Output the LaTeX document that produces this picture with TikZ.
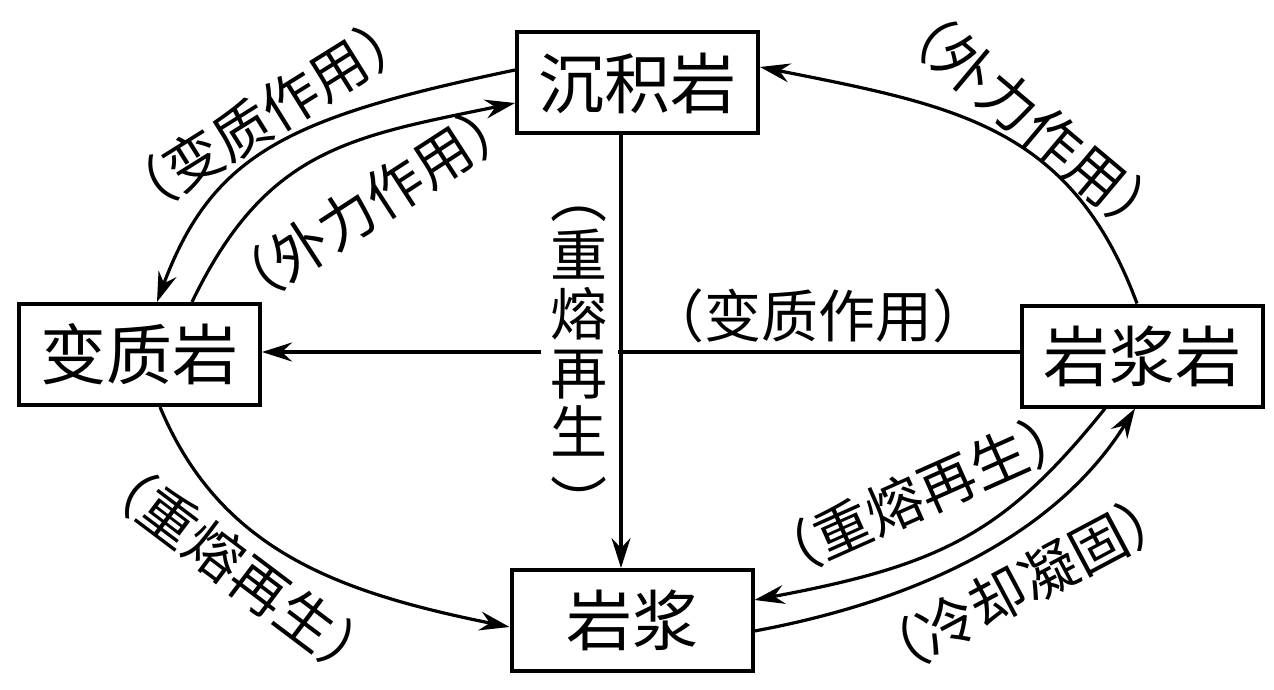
\documentclass[tikz,border=0pt]{standalone}
\usepackage{fontspec}
\newfontfamily\cjk{Noto Sans CJK SC}
\usetikzlibrary{arrows.meta}
\begin{document}
\begin{tikzpicture}[x=1pt,y=-1pt,
  box/.style={draw, line width=4pt, minimum width=241pt, minimum height=101pt, inner sep=0pt, font=\cjk\fontsize{66}{66}\selectfont},
  lbl/.style={font=\cjk\fontsize{57}{57}\selectfont, inner sep=0pt},
  con/.style={line width=3.2pt},
  arr/.style={con, -{Stealth[length=30pt,width=19pt,inset=10pt]}}]
\useasboundingbox (0,0) rectangle (1274,690);
\node[box] (sed) at (637.5,83) {沉积岩};
\node[box] (met) at (139.5,354.5) {变质岩};
\node[box] (ign) at (1142.5,356) {岩浆岩};
\node[box] (mag) at (632,620.5) {岩浆};
% curves
\draw[arr] ([yshift=13pt]sed.west) .. controls (291,117) and (213,152) .. ([xshift=17.5pt]met.north);
\draw[arr] ([xshift=52.5pt]met.north) .. controls (266,149) and (349,137) .. ([yshift=-20pt]sed.west);
\draw[arr] ([xshift=-5.5pt]ign.north) .. controls (1071,126) and (956,106) .. ([yshift=16pt]sed.east);
\draw[arr] ([xshift=20.5pt]met.south) .. controls (220,550) and (337,592) .. ([yshift=-6.5pt]mag.west);
\draw[arr] ([yshift=-10.5pt]mag.east) .. controls (932,598) and (1061,527) .. ([xshift=-7.5pt]ign.south);
\draw[arr] ([xshift=-37.5pt]ign.south) .. controls (1005,533) and (942,565) .. ([yshift=20.5pt]mag.east);
% straight connectors
\coordinate (hy) at (0,352);
\coordinate (vx) at (621,0);
\draw[arr] (ign.west |- hy) -- (met.east |- hy);
\node[lbl, fill=white, inner xsep=10pt, inner ysep=2pt, align=center, font=\cjk\fontsize{57}{59}\selectfont] (lvert) at (579,366) {︵\\重\\熔\\再\\生\\[12pt]︶};
\draw[arr] (sed.south -| vx) -- (mag.north -| vx);
% labels
\node[lbl] (lmid) at (818,316) {（变质作用）};
\node[lbl, rotate=32] (lul1) at (266,115) {（变质作用）};
\node[lbl, rotate=33] (lul2) at (371,203) {（外力作用）};
\node[lbl, rotate=-40] (lur) at (1031,120) {（外力作用）};
\node[lbl, rotate=-37] (lll) at (238,569) {（重熔再生）};
\node[lbl, rotate=24] (llr1) at (921,494) {（重熔再生）};
\node[lbl, rotate=28] (llr2) at (1023,584) {（冷却凝固）};
\end{tikzpicture}
\end{document}
